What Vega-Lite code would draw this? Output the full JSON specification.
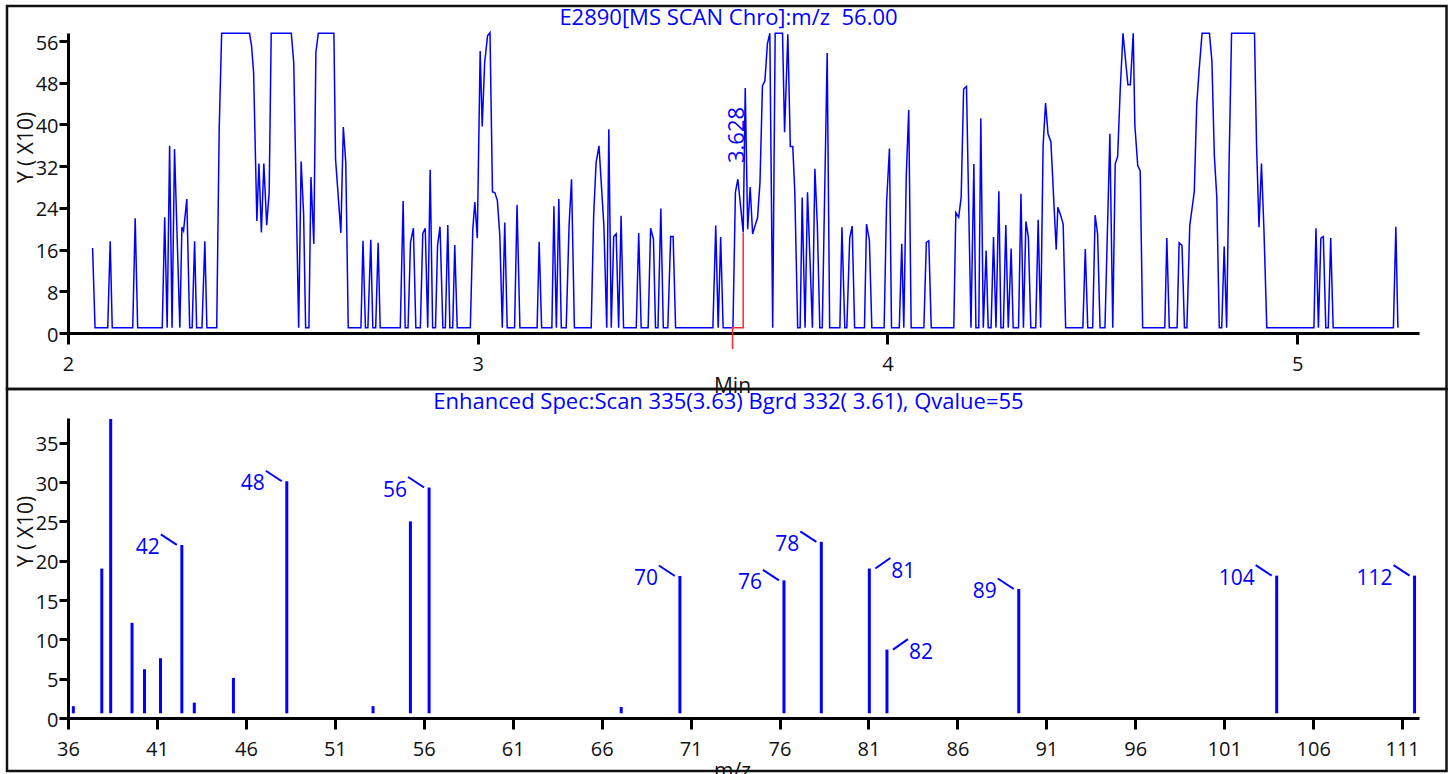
{
  "$schema": "https://vega.github.io/schema/vega-lite/v6.json",
  "background": "white",
  "padding": {"left": 5, "top": 4, "right": 0, "bottom": 0},
  "autosize": {"type": "pad"},
  "spacing": 85,
  "bounds": "flush",
  "config": {
    "font": "Open Sans",
    "view": {"stroke": null},
    "axis": {
      "grid": false,
      "domainColor": "#000000",
      "domainWidth": 3,
      "tickColor": "#000000",
      "tickWidth": 3,
      "labelFontSize": 20,
      "labelColor": "#111111",
      "labelFlush": false,
      "labelOverlap": false,
      "titleFontSize": 21,
      "titleFontWeight": "normal",
      "titleColor": "#111111"
    }
  },
  "datasets": {
    "chromatogram": [
      {"time": 2.060, "intensity": 16.3}, {"time": 2.066, "intensity": 1}, {"time": 2.097, "intensity": 1}, {"time": 2.103, "intensity": 17.6},
      {"time": 2.108, "intensity": 1}, {"time": 2.158, "intensity": 1}, {"time": 2.164, "intensity": 22}, {"time": 2.170, "intensity": 1},
      {"time": 2.230, "intensity": 1}, {"time": 2.236, "intensity": 22.2}, {"time": 2.242, "intensity": 1}, {"time": 2.248, "intensity": 35.9},
      {"time": 2.254, "intensity": 1}, {"time": 2.260, "intensity": 35.3}, {"time": 2.273, "intensity": 1}, {"time": 2.278, "intensity": 20.3},
      {"time": 2.282, "intensity": 19.6}, {"time": 2.290, "intensity": 25.7}, {"time": 2.297, "intensity": 1}, {"time": 2.303, "intensity": 1},
      {"time": 2.309, "intensity": 17.6}, {"time": 2.314, "intensity": 1}, {"time": 2.327, "intensity": 1}, {"time": 2.334, "intensity": 17.6},
      {"time": 2.339, "intensity": 1}, {"time": 2.363, "intensity": 1}, {"time": 2.369, "intensity": 39}, {"time": 2.375, "intensity": 57.5},
      {"time": 2.443, "intensity": 57.5}, {"time": 2.448, "intensity": 55.1}, {"time": 2.453, "intensity": 50}, {"time": 2.461, "intensity": 21.5},
      {"time": 2.466, "intensity": 32.5}, {"time": 2.472, "intensity": 19.3}, {"time": 2.478, "intensity": 32.5}, {"time": 2.485, "intensity": 20.7},
      {"time": 2.491, "intensity": 27}, {"time": 2.496, "intensity": 57.5}, {"time": 2.545, "intensity": 57.5}, {"time": 2.551, "intensity": 51.9},
      {"time": 2.563, "intensity": 1}, {"time": 2.569, "intensity": 32.9}, {"time": 2.575, "intensity": 23}, {"time": 2.580, "intensity": 1},
      {"time": 2.588, "intensity": 1}, {"time": 2.593, "intensity": 29.9}, {"time": 2.600, "intensity": 17.1}, {"time": 2.605, "intensity": 53.8},
      {"time": 2.611, "intensity": 57.5}, {"time": 2.649, "intensity": 57.5}, {"time": 2.653, "intensity": 33.4}, {"time": 2.666, "intensity": 19.2},
      {"time": 2.672, "intensity": 39.5}, {"time": 2.678, "intensity": 32.7}, {"time": 2.684, "intensity": 1}, {"time": 2.715, "intensity": 1},
      {"time": 2.720, "intensity": 17.7}, {"time": 2.726, "intensity": 1}, {"time": 2.732, "intensity": 1}, {"time": 2.739, "intensity": 17.9},
      {"time": 2.744, "intensity": 1}, {"time": 2.751, "intensity": 1}, {"time": 2.757, "intensity": 17.3}, {"time": 2.762, "intensity": 1},
      {"time": 2.811, "intensity": 1}, {"time": 2.818, "intensity": 25.3}, {"time": 2.823, "intensity": 1}, {"time": 2.830, "intensity": 1},
      {"time": 2.836, "intensity": 17.4}, {"time": 2.843, "intensity": 20.1}, {"time": 2.849, "intensity": 1}, {"time": 2.860, "intensity": 1},
      {"time": 2.866, "intensity": 19.1}, {"time": 2.872, "intensity": 20.1}, {"time": 2.878, "intensity": 1}, {"time": 2.884, "intensity": 31.3},
      {"time": 2.890, "intensity": 1}, {"time": 2.897, "intensity": 1}, {"time": 2.902, "intensity": 16.8}, {"time": 2.908, "intensity": 20.4},
      {"time": 2.915, "intensity": 1}, {"time": 2.921, "intensity": 1}, {"time": 2.927, "intensity": 20.7}, {"time": 2.932, "intensity": 1},
      {"time": 2.939, "intensity": 1}, {"time": 2.944, "intensity": 16.9}, {"time": 2.950, "intensity": 1}, {"time": 2.982, "intensity": 1},
      {"time": 2.988, "intensity": 19.9}, {"time": 2.993, "intensity": 25.1}, {"time": 2.999, "intensity": 18.2}, {"time": 3.006, "intensity": 54.1},
      {"time": 3.011, "intensity": 39.6}, {"time": 3.017, "intensity": 51.9}, {"time": 3.024, "intensity": 57}, {"time": 3.030, "intensity": 57.6},
      {"time": 3.036, "intensity": 27.1}, {"time": 3.042, "intensity": 26.9}, {"time": 3.048, "intensity": 25.4}, {"time": 3.054, "intensity": 18.7},
      {"time": 3.060, "intensity": 1}, {"time": 3.066, "intensity": 21.2}, {"time": 3.072, "intensity": 1}, {"time": 3.090, "intensity": 1},
      {"time": 3.096, "intensity": 24.6}, {"time": 3.103, "intensity": 1}, {"time": 3.145, "intensity": 1}, {"time": 3.150, "intensity": 17.5},
      {"time": 3.156, "intensity": 1}, {"time": 3.181, "intensity": 1}, {"time": 3.186, "intensity": 24.3}, {"time": 3.192, "intensity": 1},
      {"time": 3.198, "intensity": 25.7}, {"time": 3.204, "intensity": 1}, {"time": 3.216, "intensity": 1}, {"time": 3.223, "intensity": 20.6},
      {"time": 3.229, "intensity": 29.5}, {"time": 3.236, "intensity": 1}, {"time": 3.277, "intensity": 1}, {"time": 3.283, "intensity": 22.5},
      {"time": 3.289, "intensity": 32.7}, {"time": 3.296, "intensity": 35.9}, {"time": 3.308, "intensity": 20.6}, {"time": 3.315, "intensity": 1},
      {"time": 3.320, "intensity": 39.1}, {"time": 3.326, "intensity": 1}, {"time": 3.332, "intensity": 18.5}, {"time": 3.338, "intensity": 19},
      {"time": 3.344, "intensity": 1}, {"time": 3.350, "intensity": 22.5}, {"time": 3.356, "intensity": 1}, {"time": 3.387, "intensity": 1},
      {"time": 3.393, "intensity": 19.2}, {"time": 3.399, "intensity": 1}, {"time": 3.416, "intensity": 1}, {"time": 3.422, "intensity": 20.1},
      {"time": 3.429, "intensity": 18}, {"time": 3.434, "intensity": 1}, {"time": 3.440, "intensity": 1}, {"time": 3.447, "intensity": 23.9},
      {"time": 3.453, "intensity": 1}, {"time": 3.464, "intensity": 1}, {"time": 3.471, "intensity": 18.5}, {"time": 3.477, "intensity": 18.5},
      {"time": 3.483, "intensity": 1}, {"time": 3.574, "intensity": 1}, {"time": 3.581, "intensity": 20.6}, {"time": 3.587, "intensity": 1},
      {"time": 3.593, "intensity": 18.4}, {"time": 3.599, "intensity": 1}, {"time": 3.623, "intensity": 1}, {"time": 3.629, "intensity": 27},
      {"time": 3.635, "intensity": 29.5}, {"time": 3.648, "intensity": 19.3}, {"time": 3.653, "intensity": 47}, {"time": 3.659, "intensity": 19.9},
      {"time": 3.665, "intensity": 28}, {"time": 3.671, "intensity": 19}, {"time": 3.677, "intensity": 20.6}, {"time": 3.683, "intensity": 22.1},
      {"time": 3.689, "intensity": 28.9}, {"time": 3.695, "intensity": 47.4}, {"time": 3.701, "intensity": 48.4}, {"time": 3.707, "intensity": 55.4},
      {"time": 3.713, "intensity": 57.5}, {"time": 3.720, "intensity": 1}, {"time": 3.726, "intensity": 57.5}, {"time": 3.744, "intensity": 57.5},
      {"time": 3.749, "intensity": 38.5}, {"time": 3.757, "intensity": 57.3}, {"time": 3.763, "intensity": 35.8}, {"time": 3.769, "intensity": 35.8},
      {"time": 3.774, "intensity": 27}, {"time": 3.781, "intensity": 1}, {"time": 3.787, "intensity": 1}, {"time": 3.792, "intensity": 26},
      {"time": 3.799, "intensity": 1}, {"time": 3.805, "intensity": 27}, {"time": 3.817, "intensity": 1}, {"time": 3.823, "intensity": 31.5},
      {"time": 3.829, "intensity": 20.6}, {"time": 3.835, "intensity": 1}, {"time": 3.841, "intensity": 1}, {"time": 3.853, "intensity": 53.7},
      {"time": 3.859, "intensity": 1}, {"time": 3.884, "intensity": 1}, {"time": 3.889, "intensity": 20.3}, {"time": 3.896, "intensity": 1},
      {"time": 3.901, "intensity": 1}, {"time": 3.908, "intensity": 18.2}, {"time": 3.914, "intensity": 20.5}, {"time": 3.920, "intensity": 1},
      {"time": 3.944, "intensity": 1}, {"time": 3.949, "intensity": 20.9}, {"time": 3.956, "intensity": 17.8}, {"time": 3.962, "intensity": 1},
      {"time": 3.992, "intensity": 1}, {"time": 3.998, "intensity": 25.1}, {"time": 4.005, "intensity": 35.4}, {"time": 4.010, "intensity": 1},
      {"time": 4.029, "intensity": 1}, {"time": 4.035, "intensity": 17.1}, {"time": 4.040, "intensity": 1}, {"time": 4.046, "intensity": 30},
      {"time": 4.052, "intensity": 42.8}, {"time": 4.058, "intensity": 1}, {"time": 4.089, "intensity": 1}, {"time": 4.095, "intensity": 17.4},
      {"time": 4.101, "intensity": 17.7}, {"time": 4.107, "intensity": 1}, {"time": 4.162, "intensity": 1}, {"time": 4.167, "intensity": 23.1},
      {"time": 4.174, "intensity": 22.2}, {"time": 4.180, "intensity": 26}, {"time": 4.186, "intensity": 46.8}, {"time": 4.193, "intensity": 47.3},
      {"time": 4.204, "intensity": 1}, {"time": 4.211, "intensity": 32.4}, {"time": 4.216, "intensity": 1}, {"time": 4.223, "intensity": 1},
      {"time": 4.228, "intensity": 41.2}, {"time": 4.234, "intensity": 1}, {"time": 4.241, "intensity": 15.8}, {"time": 4.246, "intensity": 1},
      {"time": 4.253, "intensity": 1}, {"time": 4.259, "intensity": 18.4}, {"time": 4.265, "intensity": 1}, {"time": 4.272, "intensity": 27.2},
      {"time": 4.277, "intensity": 1}, {"time": 4.283, "intensity": 1}, {"time": 4.289, "intensity": 20.7}, {"time": 4.295, "intensity": 1},
      {"time": 4.302, "intensity": 16.2}, {"time": 4.307, "intensity": 1}, {"time": 4.320, "intensity": 1}, {"time": 4.326, "intensity": 26.7},
      {"time": 4.332, "intensity": 1}, {"time": 4.338, "intensity": 21.4}, {"time": 4.344, "intensity": 18.4}, {"time": 4.350, "intensity": 1},
      {"time": 4.362, "intensity": 1}, {"time": 4.368, "intensity": 21.7}, {"time": 4.374, "intensity": 1}, {"time": 4.380, "intensity": 35.9},
      {"time": 4.386, "intensity": 44.1}, {"time": 4.392, "intensity": 38.2}, {"time": 4.399, "intensity": 36.7}, {"time": 4.412, "intensity": 16},
      {"time": 4.416, "intensity": 24.1}, {"time": 4.422, "intensity": 22.8}, {"time": 4.429, "intensity": 20.9}, {"time": 4.435, "intensity": 1},
      {"time": 4.477, "intensity": 1}, {"time": 4.483, "intensity": 16.1}, {"time": 4.489, "intensity": 1}, {"time": 4.501, "intensity": 1},
      {"time": 4.507, "intensity": 22.6}, {"time": 4.513, "intensity": 19}, {"time": 4.519, "intensity": 1}, {"time": 4.531, "intensity": 1},
      {"time": 4.543, "intensity": 38.2}, {"time": 4.550, "intensity": 1}, {"time": 4.556, "intensity": 32.4}, {"time": 4.562, "intensity": 33.9},
      {"time": 4.568, "intensity": 46.2}, {"time": 4.575, "intensity": 57.5}, {"time": 4.587, "intensity": 47.6}, {"time": 4.593, "intensity": 47.6},
      {"time": 4.600, "intensity": 57.5}, {"time": 4.604, "intensity": 39.8}, {"time": 4.611, "intensity": 32.1}, {"time": 4.617, "intensity": 31.1},
      {"time": 4.623, "intensity": 1}, {"time": 4.677, "intensity": 1}, {"time": 4.682, "intensity": 18.2}, {"time": 4.688, "intensity": 1},
      {"time": 4.707, "intensity": 1}, {"time": 4.712, "intensity": 17.3}, {"time": 4.719, "intensity": 16.8}, {"time": 4.725, "intensity": 1},
      {"time": 4.731, "intensity": 1}, {"time": 4.738, "intensity": 20.6}, {"time": 4.749, "intensity": 27.1}, {"time": 4.755, "intensity": 43.9},
      {"time": 4.761, "intensity": 50.6}, {"time": 4.768, "intensity": 57.5}, {"time": 4.786, "intensity": 57.5}, {"time": 4.792, "intensity": 52.2},
      {"time": 4.798, "intensity": 34}, {"time": 4.804, "intensity": 26}, {"time": 4.810, "intensity": 1}, {"time": 4.816, "intensity": 1},
      {"time": 4.822, "intensity": 16.6}, {"time": 4.828, "intensity": 1}, {"time": 4.834, "intensity": 32.7}, {"time": 4.840, "intensity": 57.5},
      {"time": 4.896, "intensity": 57.5}, {"time": 4.901, "intensity": 35.9}, {"time": 4.907, "intensity": 20.3}, {"time": 4.913, "intensity": 32.5},
      {"time": 4.919, "intensity": 19.9}, {"time": 4.926, "intensity": 1}, {"time": 5.041, "intensity": 1}, {"time": 5.046, "intensity": 20.1},
      {"time": 5.052, "intensity": 1}, {"time": 5.058, "intensity": 18.2}, {"time": 5.064, "intensity": 18.5}, {"time": 5.070, "intensity": 1},
      {"time": 5.076, "intensity": 1}, {"time": 5.082, "intensity": 18.2}, {"time": 5.088, "intensity": 1}, {"time": 5.235, "intensity": 1},
      {"time": 5.241, "intensity": 20.4}, {"time": 5.246, "intensity": 1}
    ],
    "scanMarker": [
      {"seq": 1, "time": 3.622, "intensity": -3.07},
      {"seq": 2, "time": 3.622, "intensity": 1},
      {"seq": 3, "time": 3.648, "intensity": 1},
      {"seq": 4, "time": 3.648, "intensity": 19.2}
    ],
    "spectrum": [
      {"mz": 36.3, "intensity": 1.5, "annotated": false},
      {"mz": 37.9, "intensity": 19.0, "annotated": false},
      {"mz": 38.4, "intensity": 38.0, "annotated": false},
      {"mz": 39.6, "intensity": 12.1, "annotated": false},
      {"mz": 40.3, "intensity": 6.2, "annotated": false},
      {"mz": 41.2, "intensity": 7.6, "annotated": false},
      {"mz": 42.4, "intensity": 22.0, "annotated": true},
      {"mz": 43.1, "intensity": 1.95, "annotated": false},
      {"mz": 45.3, "intensity": 5.1, "annotated": false},
      {"mz": 48.3, "intensity": 30.1, "annotated": true},
      {"mz": 53.15, "intensity": 1.5, "annotated": false},
      {"mz": 55.25, "intensity": 25.0, "annotated": false},
      {"mz": 56.3, "intensity": 29.3, "annotated": true},
      {"mz": 67.1, "intensity": 1.4, "annotated": false},
      {"mz": 70.4, "intensity": 18.05, "annotated": true},
      {"mz": 76.25, "intensity": 17.5, "annotated": true},
      {"mz": 78.35, "intensity": 22.4, "annotated": true},
      {"mz": 81.05, "intensity": 19.0, "annotated": true},
      {"mz": 82.04, "intensity": 8.7, "annotated": true},
      {"mz": 89.45, "intensity": 16.4, "annotated": true},
      {"mz": 103.95, "intensity": 18.1, "annotated": true},
      {"mz": 111.7, "intensity": 18.1, "annotated": true}
    ]
  },
  "vconcat": [
    {
      "width": 1351,
      "height": 300,
      "title": {
        "text": "E2890[MS SCAN Chro]:m/z\u00a0 56.00",
        "frame": "group",
        "anchor": "middle",
        "dx": -15,
        "offset": -42,
        "baseline": "alphabetic",
        "fontSize": 22,
        "fontWeight": "normal",
        "color": "#0000ff"
      },
      "layer": [
        {
          "data": {"values": [{}]},
          "mark": {"type": "rect", "filled": false, "color": "#111111", "strokeWidth": 2.5},
          "encoding": {
            "x": {"datum": 1.8511, "type": "quantitative"},
            "x2": {"datum": 5.3647},
            "y": {"datum": -10.74, "type": "quantitative"},
            "y2": {"datum": 62.73}
          }
        },
        {
          "data": {"name": "chromatogram"},
          "mark": {"type": "line", "color": "#0000ff", "strokeWidth": 1.5},
          "encoding": {
            "x": {
              "field": "time",
              "type": "quantitative",
              "scale": {"domain": [2, 5.2975], "nice": false, "zero": false},
              "axis": {
                "values": [2, 3, 4, 5],
                "format": "d",
                "title": "Min",
                "tickSize": 11,
                "labelPadding": 10,
                "titlePadding": 1,
                "titleX": 664
              }
            },
            "y": {
              "field": "intensity",
              "type": "quantitative",
              "scale": {"domain": [0, 57.55], "nice": false},
              "axis": {
                "values": [0, 8, 16, 24, 32, 40, 48, 56],
                "title": "Y ( X10)",
                "tickSize": 9,
                "labelPadding": 1,
                "labelOffset": 2,
                "titleAngle": 270,
                "titleAlign": "center",
                "titleBaseline": "middle",
                "titleX": -42,
                "titleY": 114
              }
            }
          }
        },
        {
          "data": {"name": "scanMarker"},
          "mark": {"type": "line", "color": "#ff2a2a", "strokeWidth": 1.5},
          "encoding": {
            "x": {"field": "time", "type": "quantitative"},
            "y": {"field": "intensity", "type": "quantitative"},
            "order": {"field": "seq", "type": "quantitative"}
          }
        },
        {
          "data": {"values": [{"apex": 3.628}]},
          "mark": {"type": "text", "angle": 270, "align": "left", "baseline": "middle", "dy": 2.5, "fontSize": 22, "color": "#0000ff"},
          "encoding": {
            "x": {"field": "apex", "type": "quantitative"},
            "y": {"datum": 32.6, "type": "quantitative"},
            "text": {"field": "apex", "type": "quantitative", "format": ".3f"}
          }
        }
      ]
    },
    {
      "width": 1351,
      "height": 300,
      "title": {
        "text": "Enhanced Spec:Scan 335(3.63) Bgrd 332( 3.61), Qvalue=55",
        "frame": "group",
        "anchor": "middle",
        "dx": -15,
        "offset": -43,
        "baseline": "alphabetic",
        "fontSize": 22,
        "fontWeight": "normal",
        "color": "#0000ff"
      },
      "layer": [
        {
          "data": {"values": [{}]},
          "mark": {"type": "rect", "filled": false, "color": "#111111", "strokeWidth": 2.5},
          "encoding": {
            "x": {"datum": 32.571, "type": "quantitative"},
            "x2": {"datum": 113.497},
            "y": {"datum": -6.74, "type": "quantitative"},
            "y2": {"datum": 41.83}
          }
        },
        {
          "data": {"name": "spectrum"},
          "mark": {"type": "rule", "color": "#0000ff", "strokeWidth": 3},
          "encoding": {
            "x": {
              "field": "mz",
              "type": "quantitative",
              "scale": {"domain": [36, 111.95], "nice": false, "zero": false},
              "axis": {
                "values": [36, 41, 46, 51, 56, 61, 66, 71, 76, 81, 86, 91, 96, 101, 106, 111],
                "format": "d",
                "title": "m/z",
                "tickSize": 11,
                "labelPadding": 10,
                "titlePadding": 1,
                "titleX": 664
              }
            },
            "y": {
              "field": "intensity",
              "type": "quantitative",
              "scale": {"domain": [0, 38.14], "nice": false},
              "axis": {
                "values": [0, 5, 10, 15, 20, 25, 30, 35],
                "title": "Y ( X10)",
                "tickSize": 9,
                "labelPadding": 1,
                "labelOffset": 2,
                "titleAngle": 270,
                "titleAlign": "center",
                "titleBaseline": "middle",
                "titleX": -42,
                "titleY": 113
              }
            },
            "y2": {"datum": 0.6}
          }
        },
        {
          "data": {"name": "spectrum"},
          "transform": [{"filter": "datum.annotated && (datum.mz < 80.5 || datum.mz > 83)"}],
          "layer": [
            {
              "mark": {"type": "rule", "color": "#0000ff", "strokeWidth": 2, "xOffset": -5, "x2Offset": -21, "y2Offset": -10.5},
              "encoding": {
                "x": {"field": "mz", "type": "quantitative"},
                "x2": {"field": "mz"},
                "y": {"field": "intensity", "type": "quantitative"},
                "y2": {"field": "intensity"}
              }
            },
            {
              "mark": {"type": "text", "align": "right", "baseline": "middle", "dx": -22, "dy": 3, "fontSize": 21, "color": "#0000ff"},
              "encoding": {
                "x": {"field": "mz", "type": "quantitative"},
                "y": {"field": "intensity", "type": "quantitative"},
                "text": {"field": "mz", "type": "quantitative", "format": ".0f"}
              }
            }
          ]
        },
        {
          "data": {"name": "spectrum"},
          "transform": [{"filter": "datum.annotated && datum.mz > 80.5 && datum.mz < 83"}],
          "layer": [
            {
              "mark": {"type": "rule", "color": "#0000ff", "strokeWidth": 2, "xOffset": 6, "x2Offset": 21, "y2Offset": -10.5},
              "encoding": {
                "x": {"field": "mz", "type": "quantitative"},
                "x2": {"field": "mz"},
                "y": {"field": "intensity", "type": "quantitative"},
                "y2": {"field": "intensity"}
              }
            },
            {
              "mark": {"type": "text", "align": "left", "baseline": "middle", "dx": 22, "dy": 3, "fontSize": 21, "color": "#0000ff"},
              "encoding": {
                "x": {"field": "mz", "type": "quantitative"},
                "y": {"field": "intensity", "type": "quantitative"},
                "text": {"field": "mz", "type": "quantitative", "format": ".0f"}
              }
            }
          ]
        }
      ]
    }
  ]
}
